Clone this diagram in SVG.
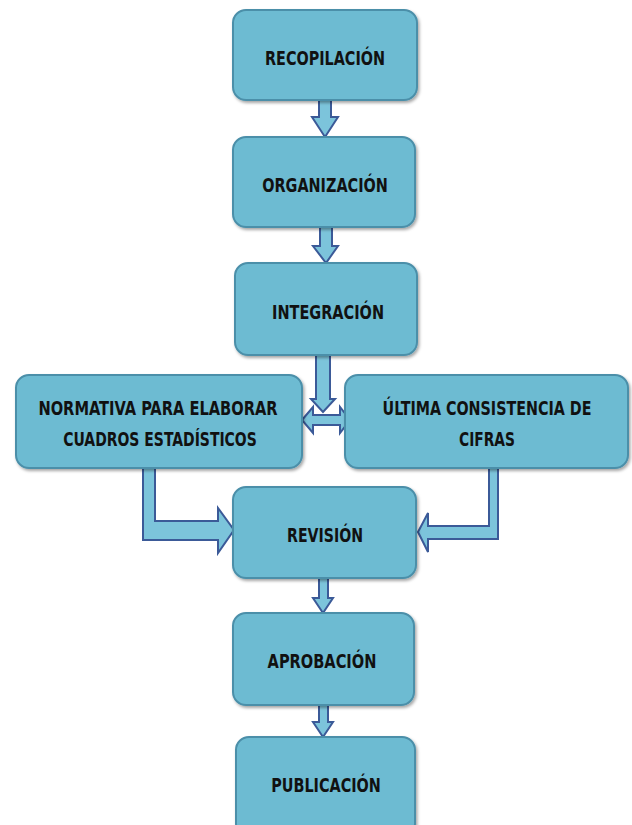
<svg xmlns="http://www.w3.org/2000/svg" width="632" height="825" viewBox="0 0 632 825">
<defs>
<filter id="sh" x="-10%" y="-10%" width="125%" height="130%">
<feDropShadow dx="1.5" dy="2" stdDeviation="1.5" flood-color="#000" flood-opacity="0.35"/>
</filter>
</defs>
<style>
.box{fill:#6DBBD2;stroke:#4B8FA9;stroke-width:2;filter:url(#sh)}
.arr{fill:#7CC4DB;stroke:#3B5A98;stroke-width:2;stroke-linejoin:miter}
.t{font-family:"Liberation Sans Narrow","DejaVu Sans Condensed","Liberation Sans",sans-serif;font-weight:bold;font-size:20px;fill:#111;text-anchor:middle}
</style>
<rect width="632" height="825" fill="#fff"/>
<g id="connectors">
<path class="arr" d="M319,100 L331,100 L331,117 L338,117 L325,137 L312,117 L319,117 Z"/>
<path class="arr" d="M320,227 L332,227 L332,246 L338,246 L326,263 L313,246 L320,246 Z"/>
<path class="arr" d="M316,355 L330,355 L330,399 L335,399 L323,412 L311,399 L316,399 Z"/>
<path class="arr" d="M302,420 L313,407 L313,415 L340,415 L340,407 L350,420 L340,433 L340,425 L313,425 L313,433 Z"/>
<path class="arr" d="M143,468 L155,468 L155,521 L218,521 L218,508 L234,530 L218,553 L218,540 L143,540 Z"/>
<path class="arr" d="M498,468 L489,468 L489,526 L428,526 L428,513 L418,532 L428,552 L428,539 L498,539 Z"/>
<path class="arr" d="M319,578 L328,578 L328,598 L333,598 L323,613 L313,598 L319,598 Z"/>
<path class="arr" d="M319,705 L328,705 L328,722 L333,722 L323,737 L313,722 L319,722 Z"/>
</g>
<g id="recopilacion">
<rect class="box" x="233" y="10" width="184" height="90" rx="13"/>
<text class="t" transform="translate(325,65) scale(0.8,1)" textLength="150" lengthAdjust="spacingAndGlyphs">RECOPILACIÓN</text>
</g>
<g id="organizacion">
<rect class="box" x="233" y="137" width="182" height="90" rx="13"/>
<text class="t" transform="translate(325,192) scale(0.8,1)" textLength="157" lengthAdjust="spacingAndGlyphs">ORGANIZACIÓN</text>
</g>
<g id="integracion">
<rect class="box" x="235" y="263" width="182" height="92" rx="13"/>
<text class="t" transform="translate(328,319) scale(0.8,1)" textLength="140" lengthAdjust="spacingAndGlyphs">INTEGRACIÓN</text>
</g>
<g id="normativa">
<rect class="box" x="16" y="375" width="286" height="93" rx="13"/>
<text class="t" transform="translate(158,415) scale(0.8,1)" textLength="299" lengthAdjust="spacingAndGlyphs">NORMATIVA PARA ELABORAR</text>
<text class="t" transform="translate(160,446) scale(0.8,1)" textLength="242" lengthAdjust="spacingAndGlyphs">CUADROS ESTADÍSTICOS</text>
</g>
<g id="ultima">
<rect class="box" x="345" y="375" width="283" height="93" rx="13"/>
<text class="t" transform="translate(487,415) scale(0.8,1)" textLength="261" lengthAdjust="spacingAndGlyphs">ÚLTIMA CONSISTENCIA DE</text>
<text class="t" transform="translate(487,446) scale(0.8,1)" textLength="70" lengthAdjust="spacingAndGlyphs">CIFRAS</text>
</g>
<g id="revision">
<rect class="box" x="233" y="487" width="183" height="91" rx="13"/>
<text class="t" transform="translate(325,542) scale(0.8,1)" textLength="95" lengthAdjust="spacingAndGlyphs">REVISIÓN</text>
</g>
<g id="aprobacion">
<rect class="box" x="233" y="613" width="181" height="92" rx="13"/>
<text class="t" transform="translate(322,668) scale(0.8,1)" textLength="136" lengthAdjust="spacingAndGlyphs">APROBACIÓN</text>
</g>
<g id="publicacion">
<rect class="box" x="236" y="737" width="179" height="100" rx="13"/>
<text class="t" transform="translate(326,792) scale(0.8,1)" textLength="137" lengthAdjust="spacingAndGlyphs">PUBLICACIÓN</text>
</g>
</svg>
